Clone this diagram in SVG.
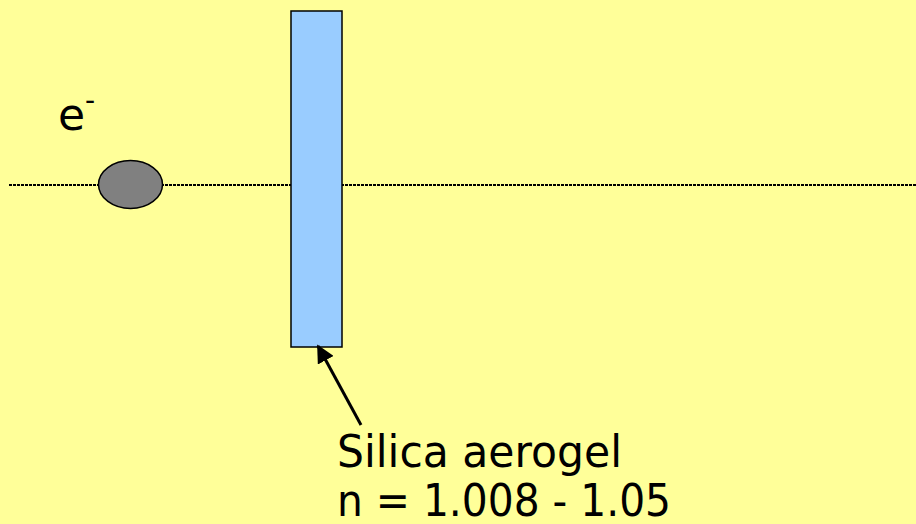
<svg xmlns="http://www.w3.org/2000/svg" width="916" height="524" viewBox="0 0 916 524">
<defs>
<style>
.t{font-family:"DejaVu Sans","Liberation Sans",sans-serif;fill:#000}
</style>
<marker id="ah" viewBox="0 0 10 10" refX="9" refY="5" markerWidth="6" markerHeight="6" markerUnits="strokeWidth" orient="auto">
<path d="M0,0 L10,5 L0,10 z" fill="#000"/>
</marker>
</defs>
<rect width="916" height="524" fill="#FFFF99"/>
<g id="beam">
<line x1="9" y1="185" x2="916" y2="185" stroke="#000" stroke-width="2" stroke-dasharray="3,1"/>
</g>
<g id="aerogel">
<rect x="291" y="11" width="51" height="336" fill="#99CCFF" stroke="#000" stroke-width="1.5"/>
</g>
<g id="electron">
<ellipse cx="130.5" cy="184.5" rx="32" ry="24" fill="#808080" stroke="#000" stroke-width="1.5"/>
<text class="t" x="58" y="130" font-size="44">e<tspan font-size="28" dy="-20">-</tspan></text>
</g>
<g id="connectors">
<line x1="361" y1="425" x2="318" y2="346" stroke="#000" stroke-width="3" marker-end="url(#ah)"/>
</g>
<g id="label">
<text class="t" x="337" y="467" font-size="45" textLength="285" lengthAdjust="spacingAndGlyphs">Silica aerogel</text>
<text class="t" x="337" y="516" font-size="45" textLength="334" lengthAdjust="spacingAndGlyphs">n = 1.008 - 1.05</text>
</g>
</svg>
